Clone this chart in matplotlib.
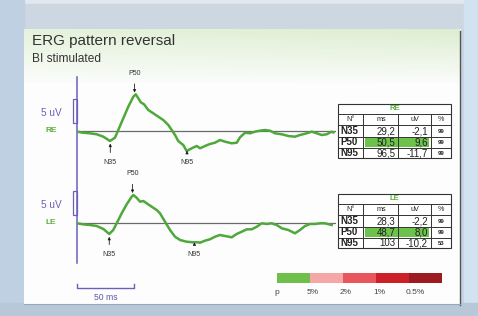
import numpy as np
import matplotlib
matplotlib.use('Agg')
import matplotlib.pyplot as plt
from matplotlib.patches import Rectangle

plt.rcParams['font.family'] = ['Liberation Sans', 'DejaVu Sans']

# ---------------- data ----------------
t_re = [0, 5.5, 11.4, 17.3, 23.1, 28.9, 33.3, 36.2, 40.6, 45.0, 49.4, 51.5, 53.8, 55.9,
        58.8, 62.5, 66.9, 71.3, 75.7, 80.1, 83.1, 86.0, 88.8, 93.2, 96.2, 100.6, 105.0,
        107.9, 112.3, 116.6, 121.0, 125.4, 129.8, 135.7, 140.1, 143.0, 147.4, 151.8,
        156.1, 160.5, 164.9, 169.3, 173.7, 179.6, 185.4, 191.2, 195.6, 201.5, 205.9,
        210.3, 214.7, 219.0, 223.4, 224.9]
v_re = [-0.14, -0.35, -0.47, -0.67, -1.16, -2.04, -1.37, 0.20, 2.59, 4.96, 7.0, 7.49,
        6.67, 5.86, 5.45, 4.29, 3.61, 2.92, 2.24, 1.22, 0.2, -0.82, -2.04, -2.86, -4.08,
        -3.53, -3.06, -3.53, -3.06, -2.65, -2.39, -1.84, -2.18, -2.51, -2.39, -1.29,
        -0.35, -0.47, -0.14, 0.06, 0.2, 0.06, -0.47, -0.67, -1.02, -1.16, -0.82, -0.47,
        -0.14, -0.47, -0.82, -0.67, -0.14, -0.3]

t_le = [0, 5.5, 11.4, 17.3, 23.1, 28.3, 31.8, 34.8, 39.2, 43.6, 48.0, 49.4, 52.3, 55.3,
        58.2, 61.1, 65.5, 69.9, 72.8, 77.2, 81.6, 86.0, 90.4, 96.2, 102.0, 106.4, 107.9,
        112.3, 116.6, 121.0, 125.4, 129.8, 135.7, 140.1, 144.5, 148.9, 153.3, 157.7,
        162.0, 166.4, 170.8, 175.2, 179.6, 185.4, 191.2, 195.6, 200.0, 204.4, 208.8,
        213.2, 217.5, 223.4]
v_le = [-0.06, -0.27, -0.41, -0.61, -1.22, -2.24, -1.43, -0.06, 1.98, 3.82, 5.37, 5.71,
        5.16, 4.35, 4.49, 4.02, 3.33, 2.65, 1.98, 0.27, -1.43, -2.8, -3.47, -3.82, -3.94,
        -3.94, -4.02, -3.61, -3.33, -2.8, -2.45, -2.65, -2.92, -2.24, -1.78, -1.29, -1.29,
        -0.76, -0.06, -0.2, -0.06, -0.41, -1.08, -1.43, -2.1, -1.43, -0.61, -0.2, -0.2,
        -0.06, -0.06, -0.41]

peaks = ['N35', 'P50', 'N95']
re_lat = [29.2, 50.5, 96.5]
le_lat = [28.3, 48.7, 103.0]
re_ms = ['29,2', '50,5', '96,5']
re_uv = ['-2,1', '9,6', '-11,7']
re_pct = ['99', '99', '99']
le_ms = ['28,3', '48,7', '103']
le_uv = ['-2,2', '8,0', '-10,2']
le_pct = ['99', '99', '53']
table_header = ['N°', 'ms', 'uV', '%']
legend_labels = ['p', '5%', '2%', '1%', '0.5%']
legend_colors = ['#6fc04b', '#f5a7a8', '#e9555d', '#cc1f28', '#9c1a20']

# ---------------- layout ----------------
W, H = 478, 316
PX_PER_MS = 57 / 50.0
PX_PER_UV = 4.9
T_MAX = 227
PURPLE = '#6b5fb8'
GREEN = '#4ea83a'

fig = plt.figure(figsize=(W / 100, H / 100), dpi=100)
fig.patch.set_facecolor('#c6d3e2')


def px_axes(x0, y0, x1, y1, **kw):
    return fig.add_axes([x0 / W, 1 - y1 / H, (x1 - x0) / W, (y1 - y0) / H], **kw)


bg = px_axes(0, 0, W, H)
bg.set_xlim(0, W)
bg.set_ylim(H, 0)
bg.axis('off')

# frame decoration
bg.add_patch(Rectangle((0, 0), W, 4, color='#e2e8ef', zorder=0))
bg.add_patch(Rectangle((0, 4), W, 25, color='#cdd7e2', zorder=0))
bg.add_patch(Rectangle((0, 0), 24, H, color='#bfd0e3', zorder=0.5))
bg.add_patch(Rectangle((464, 0), W - 464, H, color='#d3e2f1', zorder=0.5))
bg.add_patch(Rectangle((0, 303), W, H - 303, color='#b9c8d9', zorder=0.5))
bg.add_patch(Rectangle((24, 29), 437, 275, facecolor='#fdfdfd', edgecolor='none', zorder=1))
# green header gradient
gy = np.linspace(1, 0, 60)[:, None]
gx = np.linspace(0.75, 1, 200)[None, :]
alpha = (gy ** 0.9) * gx
img = np.zeros((60, 200, 4))
img[..., 0] = 0.87
img[..., 1] = 0.935
img[..., 2] = 0.82
img[..., 3] = alpha
bg.imshow(img, extent=[24, 460, 85, 29], aspect='auto', zorder=1.5, interpolation='bilinear')
bg.plot([460.5, 460.5], [31, 305], color='#555555', lw=1.0, zorder=2)
bg.plot([24, 460.5], [303.5, 303.5], color='#9aa6b4', lw=0.8, zorder=2)

bg.text(32, 45, 'ERG pattern reversal', fontsize=11, color='#333333', va='baseline', zorder=3)
bg.text(32, 62, 'BI stimulated', fontsize=8.6, color='#333333', va='baseline', zorder=3)

# purple vertical axis line
bg.plot([77, 77], [77, 263], color=PURPLE, lw=1.1, zorder=3)


def trace_axes(base_px, top_px, bot_px):
    ax = px_axes(77, top_px, 77 + T_MAX * PX_PER_MS, bot_px)
    ax.set_xlim(0, T_MAX)
    ax.set_ylim(-(bot_px - base_px) / PX_PER_UV, (base_px - top_px) / PX_PER_UV)
    ax.patch.set_alpha(0)
    ax.axis('off')
    return ax


def draw_trace(ax, t, v, lats, eye):
    ax.axhline(0, color='#6a6a6a', lw=0.9, zorder=2)
    ax.plot(t, v, color=GREEN, lw=1.8, zorder=3, solid_joinstyle='round')
    # 5 uV bracket
    ax.add_patch(Rectangle((-4 / PX_PER_MS, 8 / PX_PER_UV), 4 / PX_PER_MS, 5,
                           facecolor='none', edgecolor=PURPLE, lw=0.9, clip_on=False))
    ax.text(-15 / PX_PER_MS, 18 / PX_PER_UV, '5 uV', color=PURPLE, fontsize=7.2,
            ha='right', va='center')
    ax.text(-26 / PX_PER_MS, 1 / PX_PER_UV, eye, color='#5cb03c', fontsize=6,
            fontweight='bold', ha='center', va='center')
    for name, lat in zip(peaks, lats):
        amp = np.interp(lat, t, v)
        if name.startswith('P'):
            ax.annotate(name, xy=(lat, amp), xytext=(0, 22), textcoords='offset pixels',
                        ha='center', va='center', fontsize=5, color='#333333',
                        arrowprops=dict(arrowstyle='-|>', lw=0.6, color='#222222',
                                        mutation_scale=4, shrinkA=3, shrinkB=2))
        else:
            ax.annotate(name, xy=(lat, amp), xytext=(lat, -32 / PX_PER_UV), textcoords='data',
                        ha='center', va='center', fontsize=5, color='#333333',
                        arrowprops=dict(arrowstyle='-|>', lw=0.6, color='#222222',
                                        mutation_scale=4, shrinkA=3, shrinkB=2))


ax_re = trace_axes(131, 70, 175)
draw_trace(ax_re, t_re, v_re, re_lat, 'RE')
ax_le = trace_axes(223, 165, 270)
draw_trace(ax_le, t_le, v_le, le_lat, 'LE')

# 50 ms scale bar (in data units of the lower trace)
sb_y = -(288 - 223) / PX_PER_UV
tick = 4 / PX_PER_UV
ax_le.plot([0, 0, 50, 50], [sb_y + tick, sb_y, sb_y, sb_y + tick], color=PURPLE,
           lw=1.0, clip_on=False)
ax_le.text(25, sb_y - 9 / PX_PER_UV, '50 ms', color='#5a56a8', fontsize=6.2,
           ha='center', va='center')

# ---------------- tables ----------------
cols = [338.5, 363.5, 398.5, 431, 451]


def draw_table(y0, eye, ms, uv, pct):
    rows = [y0, y0 + 10, y0 + 21, y0 + 32.5, y0 + 43.5, y0 + 54]
    bg.add_patch(Rectangle((cols[0], rows[0]), cols[-1] - cols[0], rows[-1] - rows[0],
                           facecolor='white', edgecolor='none', zorder=3))
    # green highlight for P50 ms & uV
    bg.add_patch(Rectangle((cols[1] + 1.5, rows[3] + 1), cols[3] - cols[1] - 3,
                           rows[4] - rows[3] - 2, facecolor='#6cc24a', edgecolor='none', zorder=3.5))
    lc = '#333333'
    bg.add_patch(Rectangle((cols[0], rows[0]), cols[-1] - cols[0], rows[-1] - rows[0],
                           facecolor='none', edgecolor=lc, lw=0.8, zorder=4))
    for r in rows[1:-1]:
        bg.plot([cols[0], cols[-1]], [r, r], color=lc, lw=0.7, zorder=4)
    for c in cols[1:-1]:
        bg.plot([c, c], [rows[1], rows[-1]], color=lc, lw=0.7, zorder=4)
    cx = (cols[0] + cols[-1]) / 2
    bg.text(cx, (rows[0] + rows[1]) / 2, eye, color='#5cb03c', fontsize=5.5,
            fontweight='bold', ha='center', va='center', zorder=5)
    for i, h in enumerate(table_header):
        bg.text((cols[i] + cols[i + 1]) / 2, (rows[1] + rows[2]) / 2, h, fontsize=5.2,
                color='#222222', ha='center', va='center', zorder=5)
    for j in range(3):
        yc = (rows[2 + j] + rows[3 + j]) / 2 + 0.3
        bg.text(cols[0] + 2, yc, peaks[j], fontsize=7, fontweight='bold', color='#222222',
                ha='left', va='center', zorder=5)
        bg.text(cols[2] - 3, yc, ms[j], fontsize=7, color='#222222',
                ha='right', va='center', zorder=5)
        bg.text(cols[3] - 3, yc, uv[j], fontsize=7, color='#222222',
                ha='right', va='center', zorder=5)
        bg.text((cols[3] + cols[4]) / 2, yc, pct[j], fontsize=4.3, fontweight='bold',
                color='#222222', ha='center', va='center', zorder=5)


draw_table(104, 'RE', re_ms, re_uv, re_pct)
draw_table(194, 'LE', le_ms, le_uv, le_pct)

# ---------------- significance legend ----------------
lx0, seg_w, ly0, lh = 277, 33, 273, 10
for i, col in enumerate(legend_colors):
    bg.add_patch(Rectangle((lx0 + i * seg_w, ly0), seg_w, lh, facecolor=col,
                           edgecolor='none', zorder=3))
for i, lab in enumerate(legend_labels):
    bg.text(lx0 + i * seg_w - 3, 292, lab, fontsize=6, color='#444444',
            ha='left', va='center', zorder=3)

fig.savefig('out.png', dpi=100, facecolor=fig.get_facecolor())
